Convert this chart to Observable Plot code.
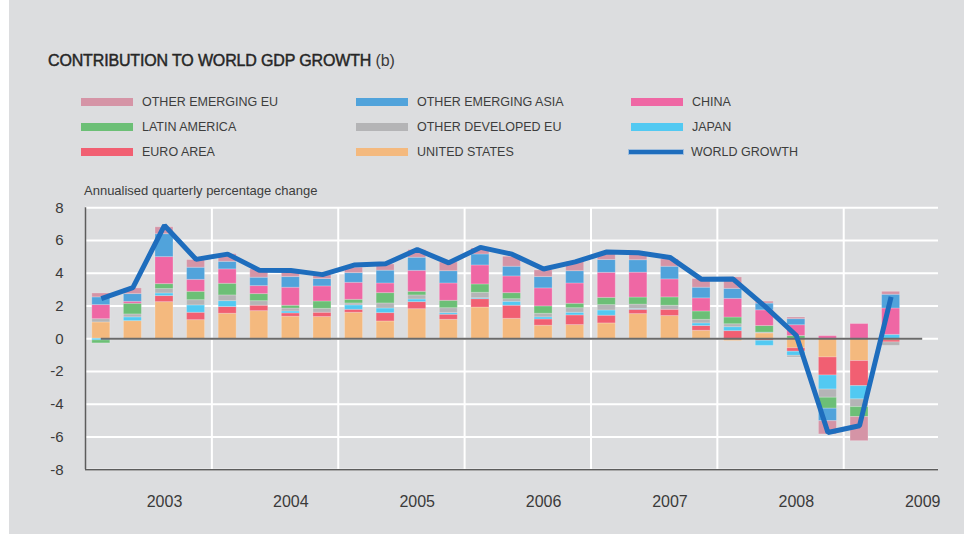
<!DOCTYPE html>
<html>
<head>
<meta charset="utf-8">
<script src="https://cdn.jsdelivr.net/npm/d3@7"></script>
<script src="https://cdn.jsdelivr.net/npm/@observablehq/plot@0.6"></script>
<style>
  body { margin: 0; background: #ffffff; }
  #wrap { position: relative; width: 964px; height: 534px; overflow: hidden; font-family: "Liberation Sans", Arial, sans-serif; }
  #panel { position: absolute; left: 9px; top: 0; width: 955px; height: 534px; background: #dcdddf; }
  #title { position: absolute; left: 48px; top: 52.5px; font-size: 16px; line-height: 16px; color: #262626; white-space: nowrap; letter-spacing: -0.15px; }
  #title b { font-weight: normal; -webkit-text-stroke: 0.45px #262626; }
  #title span { color: #3a3a3a; }
  .leg { position: absolute; display: flex; align-items: center; height: 14px; font-size: 12.5px; line-height: 14px; color: #3d3d3d; white-space: nowrap; }
  .sw { width: 52px; height: 8px; margin-right: 9px; flex: none; }
  .swl { width: 54px; height: 4px; margin-right: 8px; margin-left: -2px; flex: none; box-shadow: 0 0 0 1px rgba(120,170,220,0.6); }
  #ylab { position: absolute; left: 84px; top: 184px; font-size: 13px; line-height: 13px; color: #3d3d3d; white-space: nowrap; }
  #chart { position: absolute; left: 0; top: 180px; }
</style>
</head>
<body>
<div id="wrap">
  <div id="panel"></div>
  <div id="title"><b>CONTRIBUTION TO WORLD GDP GROWTH</b><span> (b)</span></div>
  <div id="ylab">Annualised quarterly percentage change</div>
  <div id="chart"></div>
</div>
<script>
// ---- data ----
const quarters = ["2002Q3","2002Q4",
  "2003Q1","2003Q2","2003Q3","2003Q4",
  "2004Q1","2004Q2","2004Q3","2004Q4",
  "2005Q1","2005Q2","2005Q3","2005Q4",
  "2006Q1","2006Q2","2006Q3","2006Q4",
  "2007Q1","2007Q2","2007Q3","2007Q4",
  "2008Q1","2008Q2","2008Q3","2008Q4"];

const yearLabels = [2003, 2004, 2005, 2006, 2007, 2008, 2009];
const yTicks = [-8, -6, -4, -2, 0, 2, 4, 6, 8];

// stacking order (bottom first)
const unitedStates = [1.00,1.08, 2.24,1.14,1.53,1.69, 1.35,1.33,1.59,1.06, 1.81,1.16,1.91,1.22, 0.80,0.84,0.94,1.51, 1.39,0.49,-0.14,0.33, -0.58,-1.14,-1.36,-0.10];
const euroArea     = [0.00,0.00, 0.37,0.45,0.41,0.33, 0.20,0.26,0.18,0.51, 0.43,0.31,0.51,0.80, 0.38,0.59,0.47,0.26, 0.38,0.29,0.47,-0.12, -0.21,-1.10,-1.53,-0.12];
const japan        = [-0.10,0.23, 0.16,0.45,0.36,-0.05, 0.12,-0.08,0.27,0.28, 0.16,0.10,0.06,0.24, 0.13,0.16,0.32,0.05, 0.00,0.16,0.24,-0.31, -0.25,-0.86,-0.81,0.24];
const otherDevEU   = [0.20,0.18, 0.27,0.32,0.35,0.28, 0.18,0.24,0.12,0.31, 0.25,0.30,0.33,0.16, 0.22,0.28,0.33,0.27, 0.25,0.22,0.18,0.05, -0.10,-0.50,-0.47,-0.21];
const latinAmerica = [-0.18,0.65, 0.30,0.51,0.71,0.43, 0.17,0.45,0.22,0.63, 0.22,0.45,0.51,0.37, 0.45,0.27,0.44,0.43, 0.51,0.51,0.41,0.40, 0.17,-0.67,-0.61,0.00];
const china        = [0.86,0.12, 1.65,0.73,0.88,0.49, 1.10,0.92,1.04,0.59, 1.28,1.06,1.16,1.02, 1.10,1.24,1.53,1.52, 1.10,0.80,1.14,0.96, 0.66,0.16,0.90,1.61];
const otherEmAsia  = [0.47,0.47, 1.40,0.74,0.46,0.51, 0.65,0.45,0.59,0.78, 0.80,0.75,0.67,0.59, 0.69,0.75,0.78,0.76, 0.77,0.65,0.61,0.41, 0.37,-0.76,0.00,0.84];
const otherEmEU    = [0.24,0.35, 0.42,0.47,0.47,0.51, 0.26,0.24,0.33,0.38, 0.47,0.53,0.37,0.61, 0.41,0.57,0.34,0.32, 0.45,0.53,0.70,0.12, 0.10,-0.81,-1.47,0.18];

const worldGrowth  = [2.45,3.12, 6.92,4.85,5.17,4.19, 4.17,3.92,4.50,4.58, 5.45,4.64,5.58,5.17, 4.26,4.70,5.30,5.25, 4.97,3.63,3.65,2.00, 0.20,-5.72,-5.31,2.56];

const seriesNames  = ["UNITED STATES","EURO AREA","JAPAN","OTHER DEVELOPED EU","LATIN AMERICA","CHINA","OTHER EMERGING ASIA","OTHER EMERGING EU"];
const seriesValues = [unitedStates, euroArea, japan, otherDevEU, latinAmerica, china, otherEmAsia, otherEmEU];
const seriesColors = ["#f4b97e","#f15f72","#52c9f2","#b4b4b6","#6cbf76","#ef67a4","#51a3db","#d594a6"];
const lineColor = "#1e6dbd";

// legend layout (row-major, 3 columns)
const legendOrder = ["OTHER EMERGING EU","OTHER EMERGING ASIA","CHINA",
                     "LATIN AMERICA","OTHER DEVELOPED EU","JAPAN",
                     "EURO AREA","UNITED STATES","WORLD GROWTH"];

// ---- helpers ----
const qTime = q => +q.slice(0, 4) + (+q.slice(5) - 1) / 4;   // start of quarter in decimal years

const rows = [];
seriesNames.forEach((s, si) => {
  seriesValues[si].forEach((v, qi) => {
    if (v !== 0) rows.push({series: s, t: qTime(quarters[qi]), value: v});
  });
});
const growthRows = quarters.map((q, i) => ({t: qTime(q) + 0.125, value: worldGrowth[i]}));

// ---- legend ----
const wrap = document.getElementById("wrap");
const colX = [81, 356, 631];
const rowY = [95, 120, 145];
legendOrder.forEach((name, i) => {
  const el = document.createElement("div");
  el.className = "leg";
  el.style.left = colX[i % 3] + "px";
  el.style.top = rowY[Math.floor(i / 3)] + "px";
  const sw = document.createElement("div");
  if (name === "WORLD GROWTH") {
    sw.className = "swl";
    sw.style.background = lineColor;
  } else {
    sw.className = "sw";
    sw.style.background = seriesColors[seriesNames.indexOf(name)];
  }
  el.appendChild(sw);
  const tx = document.createElement("span");
  tx.textContent = name;
  el.appendChild(tx);
  wrap.appendChild(el);
});

// ---- chart ----
const plot = Plot.plot({
  width: 964,
  height: 354,
  marginLeft: 85,
  marginRight: 26,
  marginTop: 27.3,
  marginBottom: 64.7,
  style: {background: "transparent", fontFamily: "'Liberation Sans', Arial, sans-serif", color: "#3a3a3a"},
  x: {domain: [2002.5, 2009.25]},
  y: {domain: [-8, 8]},
  color: {domain: seriesNames, range: seriesColors},
  marks: [
    Plot.ruleY(yTicks, {stroke: "#ffffff", strokeWidth: 2}),
    Plot.ruleX(yearLabels.slice(0, -1).map(y => y + 0.5), {stroke: "#ffffff", strokeWidth: 2}),
    Plot.rectY(rows, {
      x1: "t", x2: d => d.t + 0.25, y: "value", fill: "series",
      insetLeft: 6.8, insetRight: 6.8,
      stroke: "#ffffff", strokeOpacity: 0.22, strokeWidth: 1
    }),
    Plot.ruleY([0], {x1: 2002.625, x2: 2009.125, stroke: "#6a6a6a", strokeWidth: 2}),
    Plot.ruleX([2002.5], {stroke: "#5c5c5c", strokeWidth: 1.5}),
    Plot.ruleY([-8], {stroke: "#5c5c5c", strokeWidth: 1.5}),
    Plot.line(growthRows, {x: "t", y: "value", stroke: lineColor, strokeWidth: 5, strokeLinejoin: "miter", strokeLinecap: "butt"}),
    Plot.axisX({ticks: yearLabels.map(y => y + 0.125), tickFormat: d => String(Math.floor(d)), tickSize: 0, tickPadding: 26, fontSize: 16, label: null}),
    Plot.axisY({ticks: yTicks, tickFormat: d => String(d), tickSize: 0, tickPadding: 22, fontSize: 15, label: null})
  ]
});
document.getElementById("chart").appendChild(plot);
</script>
</body>
</html>
